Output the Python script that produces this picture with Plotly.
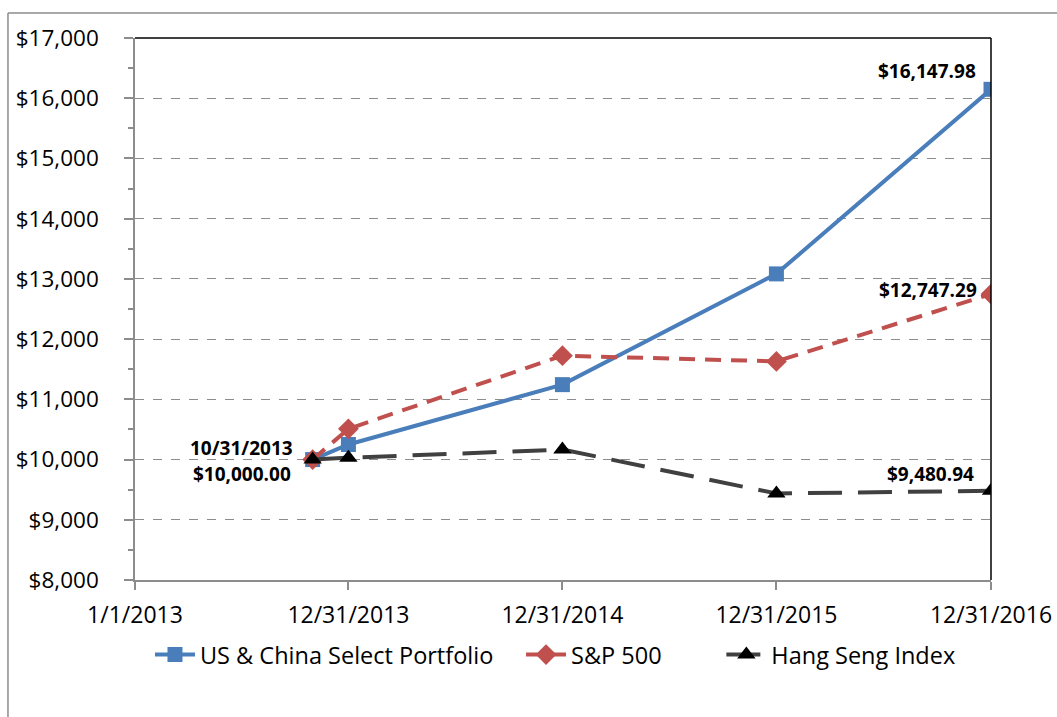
import plotly.graph_objects as go

dates = ["2013-10-31", "2013-12-31", "2014-12-31", "2015-12-31", "2016-12-31"]
us_china = [10000.00, 10250, 11244, 13083, 16147.98]
sp500 = [10000.00, 10510, 11725, 11630, 12747.29]
hang_seng = [10000.00, 10030, 10166, 9436, 9480.94]

x_tickvals = ["2013-01-01", "2013-12-31", "2014-12-31", "2015-12-31", "2016-12-31"]
x_ticktext = ["1/1/2013", "12/31/2013", "12/31/2014", "12/31/2015", "12/31/2016"]
y_tickvals = list(range(8000, 17001, 1000))
y_ticktext = ["$" + format(v, ",") for v in y_tickvals]

FONT = "Open Sans, sans-serif"

fig = go.Figure()
fig.add_trace(go.Scatter(
    x=dates, y=us_china, name="US & China Select Portfolio", mode="lines+markers",
    line=dict(color="#4A7EBB", width=4),
    marker=dict(symbol="square", size=15, color="#4A7EBB"),
    legend="legend",
))
fig.add_trace(go.Scatter(
    x=dates, y=sp500, name="S&P 500", mode="lines+markers",
    line=dict(color="#C0504D", width=4, dash="16px,10px"),
    marker=dict(symbol="diamond", size=16, color="#C0504D"),
    legend="legend2",
))
fig.add_trace(go.Scatter(
    x=dates, y=hang_seng, name="Hang Seng Index", mode="lines+markers",
    line=dict(color="#404040", width=4, dash="34px,16px"),
    marker=dict(symbol="triangle-up", size=16, color="#000000"),
    legend="legend3",
))

ann_font = dict(family=FONT, size=19, color="#000000")
annotations = [
    dict(x=dates[0], y=us_china[0], text="<b>10/31/2013</b>", xanchor="right", yanchor="middle",
         xshift=-18, yshift=12, showarrow=False, font=ann_font),
    dict(x=dates[0], y=us_china[0], text="<b>$10,000.00</b>", xanchor="right", yanchor="middle",
         xshift=-20, yshift=-14, showarrow=False, font=ann_font),
    dict(x=dates[-1], y=us_china[-1], text="<b>$" + format(us_china[-1], ",.2f") + "</b>",
         xanchor="right", yanchor="middle", xshift=-13, yshift=18, showarrow=False, font=ann_font),
    dict(x=dates[-1], y=sp500[-1], text="<b>$" + format(sp500[-1], ",.2f") + "</b>",
         xanchor="right", yanchor="middle", xshift=-12, yshift=4, showarrow=False, font=ann_font),
    dict(x=dates[-1], y=hang_seng[-1], text="<b>$" + format(hang_seng[-1], ",.2f") + "</b>",
         xanchor="right", yanchor="middle", xshift=-15, yshift=17, showarrow=False, font=ann_font),
]

shapes = [
    dict(type="line", xref="paper", yref="paper", x0=0, x1=1, y0=1, y1=1,
         line=dict(color="#000000", width=1.5)),
    dict(type="line", xref="paper", yref="paper", x0=1, x1=1, y0=0, y1=1,
         line=dict(color="#000000", width=1.5)),
    dict(type="line", xref="paper", yref="paper", x0=-0.1484, x1=1.2, y0=1.0461, y1=1.0461,
         line=dict(color="#8C8C8C", width=1.5)),
    dict(type="line", xref="paper", yref="paper", x0=-0.1484, x1=-0.1484, y0=-0.3, y1=1.0461,
         line=dict(color="#8C8C8C", width=1.5)),
]

leg_common = dict(orientation="h", y=-0.138, yanchor="middle", xanchor="left",
                  font=dict(family=FONT, size=23.5, color="#000000"),
                  itemwidth=40, bgcolor="rgba(0,0,0,0)")

fig.update_layout(
    width=1057, height=717,
    margin=dict(l=135, r=66, t=38, b=137, autoexpand=False),
    paper_bgcolor="white", plot_bgcolor="white",
    font=dict(family=FONT, size=23, color="#000000"),
    showlegend=True,
    legend=dict(x=0.0175, **leg_common),
    legend2=dict(x=0.451, **leg_common),
    legend3=dict(x=0.685, **leg_common),
    annotations=annotations,
    shapes=shapes,
)

fig.update_xaxes(
    type="date", range=["2013-01-01", "2016-12-31"], automargin=False,
    tickmode="array", tickvals=x_tickvals, ticktext=x_ticktext,
    showgrid=False, zeroline=False,
    showline=True, linecolor="#8C8C8C", linewidth=1.5,
    ticks="outside", ticklen=8, tickcolor="#8C8C8C", tickwidth=1.5,
    ticklabelstandoff=6,
    tickfont=dict(family=FONT, size=23, color="#000000"),
)
fig.update_yaxes(
    range=[8000, 17000], automargin=False,
    tickmode="array", tickvals=y_tickvals, ticktext=y_ticktext,
    showgrid=True, gridcolor="#8C8C8C", griddash="dash", gridwidth=1,
    zeroline=False,
    showline=True, linecolor="#8C8C8C", linewidth=1.5,
    ticks="outside", ticklen=9, tickcolor="#8C8C8C", tickwidth=1.5,
    ticklabelstandoff=21,
    minor=dict(dtick=500, ticks="outside", ticklen=5, tickcolor="#8C8C8C", tickwidth=1.5, showgrid=False),
    tickfont=dict(family=FONT, size=22.5, color="#000000"),
)

fig.write_html("out.html", config={"displayModeBar": False},
               post_script="document.body.style.margin='0';")
